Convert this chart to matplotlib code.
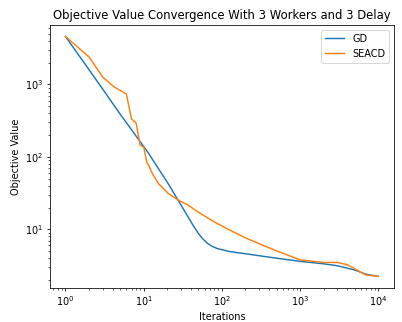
import numpy as np
import matplotlib
matplotlib.use("Agg")
import matplotlib.pyplot as plt

# GD curve
gd_x = [1, 2, 3, 5, 11.5, 16, 20.5, 27.4, 36.5, 43, 50, 57, 65, 75, 87, 126, 205, 365, 1000, 2000, 3000, 5000, 7000, 10000]
gd_y = [4600, 1600, 860, 390, 113, 65, 43, 25.5, 15.2, 11.3, 8.8, 7.4, 6.45, 5.85, 5.45, 4.94, 4.6, 4.2, 3.62, 3.35, 3.15, 2.75, 2.4, 2.25]

# SEACD curve
seacd_x = [1, 2, 3, 4.2, 6, 7, 8, 9, 10, 11, 11.5, 12.6, 13.3, 15.4, 20.5, 27.4, 36.5, 48.7, 78.7, 126, 205, 365, 490, 1000, 2000, 3000, 4000, 4900, 6900, 10000]
seacd_y = [4600, 2400, 1260, 925, 740, 333, 295, 146, 137, 83, 78, 62, 56, 43, 31.6, 25.5, 21.8, 17.6, 12.8, 9.8, 7.55, 5.8, 5.1, 3.8, 3.5, 3.5, 3.25, 2.9, 2.35, 2.25]

fig = plt.figure(figsize=(402 / 70, 322 / 70), dpi=70)
ax = fig.add_axes([0.124, 0.106, 0.856, 0.816])
ax.plot(gd_x, gd_y, label="GD")
ax.plot(seacd_x, seacd_y, label="SEACD")
ax.set_xscale("log")
ax.set_yscale("log")
ax.set_ylim(1.56, 6600)
ax.set_title("Objective Value Convergence With 3 Workers and 3 Delay")
ax.set_xlabel("Iterations")
ax.set_ylabel("Objective Value")
ax.legend()
fig.savefig("out.png", dpi=70)
